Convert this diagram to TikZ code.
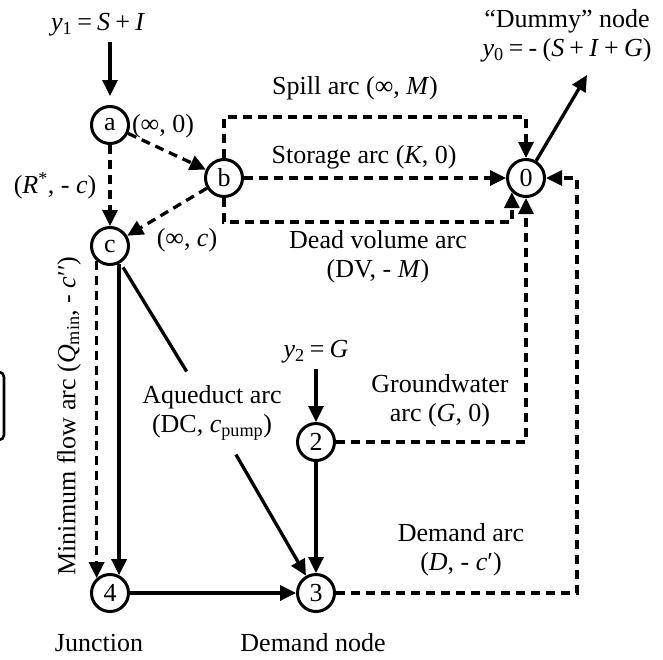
\documentclass[tikz,border=0pt]{standalone}
\usepackage{fontspec}
\setmainfont{Liberation Serif}
\usetikzlibrary{arrows.meta,calc}
\newcommand{\gsp}{\hspace{0.2em}}
\begin{document}
\begin{tikzpicture}[x=1pt,y=-1pt,
  every node/.style={font=\fontsize{26}{29}\selectfont},
  nd/.style={circle,draw,line width=3pt,minimum size=37pt,inner sep=0pt},
  lbl/.style={inner sep=0pt,align=center},
  sline/.style={line width=3.3pt},
  sarrow/.style={line width=3.3pt,-{Triangle[length=16pt,width=15pt]}},
  darrow/.style={sarrow,dash pattern=on 9pt off 6pt},
  ]
\useasboundingbox (0,0) rectangle (663,659);

% nodes
\node[nd] (a) at (110,125) {a};
\node[nd] (b) at (224,178) {b};
\node[nd] (c) at (110,246) {c};
\node[nd] (n0) at (526,178) {0};
\node[nd] (n2) at (316,442) {2};
\node[nd] (n3) at (316,593) {3};
\node[nd] (n4) at (110,593) {4};

% labels
\node[lbl] (y1) at (98,25) {\textit{y}\textsubscript{1}\gsp=\gsp\textit{S}\gsp+\gsp\textit{I}};
\node[lbl] (y2) at (316,352) {\textit{y}\textsubscript{2}\gsp=\gsp\textit{G}};
\node[lbl] (dummy) at (567,36) {“Dummy” node\\\textit{y}\textsubscript{0}\gsp=\gsp-\gsp(\textit{S}\gsp+\gsp\textit{I}\gsp+\gsp\textit{G})};
\node[lbl] (l1) at (163,126) {(∞, 0)};
\node[lbl] (l2) at (55,186) {(\textit{R}\textsuperscript{*}, - \textit{c})};
\node[lbl] (l3) at (187,240) {(∞, \textit{c})};
\node[lbl] (spill) at (355,88) {Spill arc (∞, \textit{M})};
\node[lbl] (stor) at (364,157) {Storage arc (\textit{K}, 0)};
\node[lbl] (dead) at (378,257) {Dead volume arc\\(DV, - \textit{M})};
\node[lbl] (gw) at (440,401) {Groundwater\\arc (\textit{G}, 0)};
\node[lbl] (dem) at (461,550) {Demand arc\\(\textit{D}, - \textit{c}′)};
\node[lbl] (junc) at (99,643) {Junction};
\node[lbl] (demn) at (313,643) {Demand node};
\node[lbl,rotate=90] (minf) at (69,416) {Minimum flow arc (\textit{Q}\textsubscript{min}, - \textit{c}′′)};
\node[lbl,inner ysep=14pt] (aq) at (212,413) {Aqueduct arc\\(DC, \textit{c}\textsubscript{pump})};

% coordinates
\coordinate (dtip) at (587,75);
\coordinate (spc) at (380,117);
\coordinate (dvc) at (380,222);
\coordinate (dmc) at (577,400);

% inflow arrows
\draw[sarrow,shorten >=9pt] (a |- y1.south) ++(0,5) -- (a.north);
\draw[sarrow] (n2 |- y2.south) ++(0,5) -- (n2.north);
\draw[sarrow] (n0) -- (dtip);

% reservoir arcs
\draw[darrow] (a) -- (b);
\draw[darrow] (a) -- (c);
\draw[darrow] (b) -- (c);
\draw[darrow] (b.north) |- (spc) -| (n0.north);
\draw[darrow] (b) -- (n0);
\draw[darrow] (b.south) |- (dvc) -| (n0.south west);
\draw[darrow] (n2.east) -| (n0.south);
\draw[darrow] (n3.east) -| (dmc) |- (n0.east);

% downstream arcs
\draw[darrow] (c.228) -- (n4.132);
\draw[sarrow] (c.297) -- (n4.63);
\draw[sline,shorten <=5pt] (c) -- (aq);
\draw[sarrow] (aq) -- (n3);
\draw[sarrow] (n2) -- (n3);
\draw[sarrow] (n4) -- (n3);

% fragment at left edge
\draw[line width=2.6pt,rounded corners=5pt] (-10,372) -- (4,372) -- (4,440) -- (-10,440);
\end{tikzpicture}
\end{document}
